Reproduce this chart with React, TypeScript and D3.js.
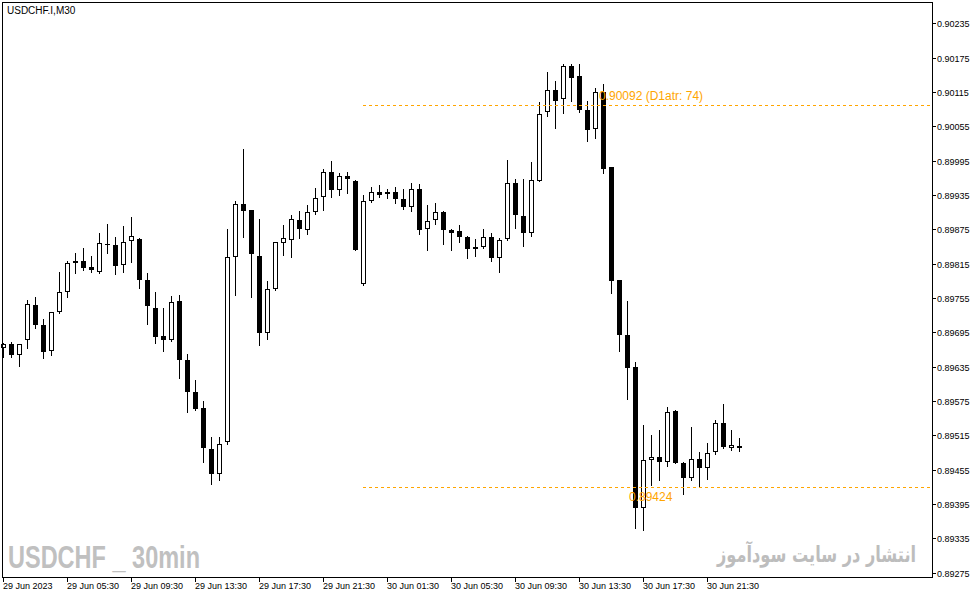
import React from 'react';
import * as d3 from 'd3';

// USDCHF.I M30, 29 Jun 2023 01:30 .. 30 Jun 2023 23:30
const opens = [
  0.89667, 0.89675, 0.89656, 0.89681, 0.89742, 0.89707, 0.89663, 0.89730, 0.89765, 0.89816,
  0.89819, 0.89809, 0.89801, 0.89849, 0.89847, 0.89812, 0.89854, 0.89858, 0.89786, 0.89737,
  0.89688, 0.89682, 0.89749, 0.89647, 0.89591, 0.89563, 0.89491, 0.89447, 0.89504, 0.89827,
  0.89919, 0.89908, 0.89828, 0.89694, 0.89771, 0.89851, 0.89856, 0.89891, 0.89874, 0.89905,
  0.89931, 0.89975, 0.89943, 0.89968, 0.89959, 0.89779, 0.89924, 0.89940, 0.89936, 0.89940,
  0.89928, 0.89914, 0.89945, 0.89875, 0.89891, 0.89905, 0.89874, 0.89872, 0.89861, 0.89844,
  0.89844, 0.89861, 0.89825, 0.89858, 0.89956, 0.89898, 0.89869, 0.89960, 0.90080, 0.90118,
  0.90102, 0.90161, 0.90143, 0.90084, 0.90051, 0.90114, 0.89983, 0.89786, 0.89691, 0.89634,
  0.89388, 0.89471, 0.89477, 0.89469, 0.89558, 0.89467, 0.89441, 0.89473, 0.89458, 0.89485,
  0.89536, 0.89493, 0.89496,
];
const closes = [
  0.89674, 0.89656, 0.89674, 0.89744, 0.89708, 0.89661, 0.89730, 0.89765, 0.89816, 0.89820,
  0.89808, 0.89803, 0.89851, 0.89847, 0.89811, 0.89852, 0.89863, 0.89787, 0.89740, 0.89687,
  0.89682, 0.89747, 0.89647, 0.89590, 0.89560, 0.89492, 0.89448, 0.89499, 0.89826, 0.89919,
  0.89907, 0.89832, 0.89694, 0.89770, 0.89852, 0.89859, 0.89893, 0.89876, 0.89905, 0.89929,
  0.89975, 0.89943, 0.89968, 0.89962, 0.89839, 0.89924, 0.89940, 0.89934, 0.89940, 0.89927,
  0.89913, 0.89945, 0.89873, 0.89889, 0.89905, 0.89874, 0.89868, 0.89862, 0.89841, 0.89841,
  0.89861, 0.89825, 0.89856, 0.89956, 0.89899, 0.89869, 0.89961, 0.90077, 0.90119, 0.90099,
  0.90161, 0.90140, 0.90084, 0.90049, 0.90114, 0.89980, 0.89785, 0.89691, 0.89633, 0.89388,
  0.89471, 0.89477, 0.89469, 0.89556, 0.89467, 0.89441, 0.89473, 0.89457, 0.89484, 0.89536,
  0.89495, 0.89498, 0.89492,
];
const highs = [
  0.89676, 0.89678, 0.89675, 0.89751, 0.89757, 0.89718, 0.89731, 0.89800, 0.89820, 0.89834,
  0.89842, 0.89828, 0.89869, 0.89884, 0.89862, 0.89881, 0.89897, 0.89859, 0.89798, 0.89765,
  0.89737, 0.89758, 0.89760, 0.89657, 0.89611, 0.89574, 0.89512, 0.89512, 0.89876, 0.89925,
  0.90015, 0.89908, 0.89893, 0.89785, 0.89853, 0.89883, 0.89900, 0.89907, 0.89918, 0.89947,
  0.89980, 0.89994, 0.89973, 0.89975, 0.89961, 0.89935, 0.89949, 0.89953, 0.89946, 0.89949,
  0.89946, 0.89956, 0.89954, 0.89918, 0.89921, 0.89906, 0.89876, 0.89883, 0.89863, 0.89858,
  0.89876, 0.89869, 0.89859, 0.89996, 0.89962, 0.89962, 0.89992, 0.90098, 0.90150, 0.90134,
  0.90164, 0.90164, 0.90164, 0.90099, 0.90122, 0.90128, 0.89984, 0.89787, 0.89750, 0.89643,
  0.89533, 0.89516, 0.89524, 0.89565, 0.89559, 0.89469, 0.89530, 0.89486, 0.89502, 0.89542,
  0.89570, 0.89524, 0.89510,
];
const lows = [
  0.89651, 0.89652, 0.89636, 0.89668, 0.89703, 0.89650, 0.89655, 0.89729, 0.89757, 0.89799,
  0.89804, 0.89801, 0.89799, 0.89834, 0.89797, 0.89801, 0.89818, 0.89773, 0.89710, 0.89677,
  0.89662, 0.89680, 0.89615, 0.89555, 0.89559, 0.89468, 0.89429, 0.89437, 0.89500, 0.89760,
  0.89862, 0.89757, 0.89673, 0.89683, 0.89769, 0.89830, 0.89827, 0.89860, 0.89867, 0.89901,
  0.89909, 0.89932, 0.89935, 0.89939, 0.89838, 0.89778, 0.89923, 0.89932, 0.89929, 0.89920,
  0.89911, 0.89906, 0.89867, 0.89839, 0.89885, 0.89850, 0.89839, 0.89853, 0.89825, 0.89829,
  0.89843, 0.89820, 0.89801, 0.89857, 0.89878, 0.89845, 0.89864, 0.89959, 0.90073, 0.90052,
  0.90078, 0.90099, 0.90079, 0.90029, 0.90035, 0.89973, 0.89764, 0.89662, 0.89578, 0.89353,
  0.89350, 0.89428, 0.89437, 0.89462, 0.89466, 0.89413, 0.89437, 0.89424, 0.89439, 0.89483,
  0.89492, 0.89490, 0.89488,
];

const timeLabels = [
  '29 Jun 2023', '29 Jun 05:30', '29 Jun 09:30', '29 Jun 13:30', '29 Jun 17:30', '29 Jun 21:30',
  '30 Jun 01:30', '30 Jun 05:30', '30 Jun 09:30', '30 Jun 13:30', '30 Jun 17:30', '30 Jun 21:30',
];
const timeLabelBars = [0, 8, 16, 24, 32, 40, 48, 56, 64, 72, 80, 88];

const priceTicks = [
  '0.90235', '0.90175', '0.90115', '0.90055', '0.89995', '0.89935', '0.89875', '0.89815', '0.89755',
  '0.89695', '0.89635', '0.89575', '0.89515', '0.89455', '0.89395', '0.89335', '0.89275',
];

const highLevel = 0.90092;
const lowLevel = 0.89424;
const atrText = '(D1atr: 74)';

const W = 978;
const H = 597;
const left = 2;
const top = 2;
const right = 932;
const bottom = 577;
const levelStartBar = 45;

const font = '"Liberation Sans", Arial, sans-serif';
const orange = '#FFA500';

export default function App() {
  const x = d3.scaleLinear().domain([0, opens.length - 1]).range([3, 3 + 8 * (opens.length - 1)]);
  const y = d3.scaleLinear().domain([0.89275, 0.90235]).range([572.6, 23.2]);
  const py = (v: number) => Math.round(y(v));

  const levelX = Math.round(x(levelStartBar));

  return (
    <svg
      width={W}
      height={H}
      style={{ position: 'absolute', left: 0, top: 0, background: '#fff' }}
      fontFamily={font}
    >
      <rect x={0} y={0} width={W} height={H} fill="#fff" />

      {/* candles */}
      <g shapeRendering="crispEdges">
        {opens.map((o, i) => {
          const c = closes[i];
          const cx = Math.round(x(i));
          const yt = py(Math.max(o, c));
          const yb = py(Math.min(o, c));
          const bull = c >= o;
          return (
            <g key={i}>
              <line x1={cx + 0.5} x2={cx + 0.5} y1={py(highs[i])} y2={py(lows[i]) + 1} stroke="#000" />
              {bull && yb - yt >= 2 ? (
                <rect x={cx - 1.5} y={yt + 0.5} width={4} height={yb - yt - 1} fill="#fff" stroke="#000" />
              ) : (
                <rect x={cx - 2} y={yt} width={5} height={Math.max(1, yb - yt)} fill="#000" />
              )}
            </g>
          );
        })}
      </g>

      {/* level lines */}
      <g shapeRendering="crispEdges">
        <line x1={levelX} x2={right - 1} y1={py(highLevel) + 0.5} y2={py(highLevel) + 0.5} stroke={orange} strokeDasharray="3,3" />
        <line x1={levelX} x2={right - 1} y1={py(lowLevel) + 0.5} y2={py(lowLevel) + 0.5} stroke={orange} strokeDasharray="3,3" />
      </g>
      <text x={599} y={py(highLevel) - 5} fontSize={12} fill={orange}>
        {`${highLevel.toFixed(5)} ${atrText}`}
      </text>
      <text x={629} y={py(lowLevel) + 14} fontSize={12} fill={orange}>
        {lowLevel.toFixed(5)}
      </text>

      {/* watermarks */}
      <text
        x={8}
        y={568}
        fontSize={31}
        fontWeight="bold"
        fill="#c0c0c0"
        textLength={192}
        lengthAdjust="spacingAndGlyphs"
      >
        USDCHF _ 30min
      </text>
      <text
        x={717}
        y={562}
        fontSize={22}
        fontWeight="bold"
        fill="#bdbdbd"
        textLength={199}
        lengthAdjust="spacingAndGlyphs"
        fontFamily='"DejaVu Sans", sans-serif'
      >
        انتشار در سایت سودآموز
      </text>

      {/* title */}
      <text x={7} y={14} fontSize={10} fill="#000">USDCHF.I,M30</text>

      {/* frame */}
      <g shapeRendering="crispEdges">
        <rect x={left + 0.5} y={top + 0.5} width={right - left} height={bottom - top} fill="none" stroke="#000" />
      </g>

      {/* price axis */}
      <g shapeRendering="crispEdges">
        {priceTicks.map((t) => {
          const ty = py(+t);
          return (
            <g key={t}>
              <line x1={right + 0.5} x2={right + 4} y1={ty + 0.5} y2={ty + 0.5} stroke="#000" />
              <text x={937} y={ty + 4} fontSize={9} fill="#000" shapeRendering="auto">{t}</text>
            </g>
          );
        })}
      </g>

      {/* time axis */}
      <g shapeRendering="crispEdges">
        {timeLabels.map((t, k) => {
          const tx = Math.round(x(timeLabelBars[k]));
          return (
            <g key={t}>
              <line x1={tx + 0.5} x2={tx + 0.5} y1={bottom + 0.5} y2={bottom + 5} stroke="#000" />
              <text x={tx} y={589} fontSize={9} fill="#000">{t}</text>
            </g>
          );
        })}
      </g>
    </svg>
  );
}
